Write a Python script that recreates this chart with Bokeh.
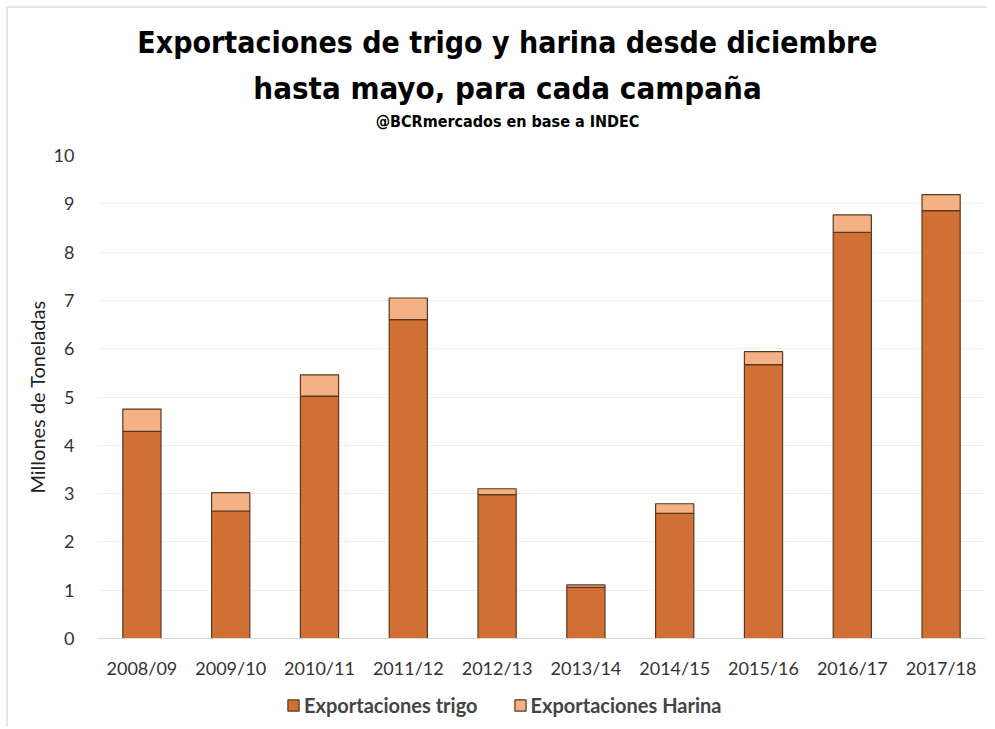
from bokeh.plotting import figure
from bokeh.models import Legend, LegendItem, Range1d, FixedTicker, Label
from bokeh.layouts import column
from bokeh.embed import file_html
from bokeh.resources import INLINE

campaigns = ["2008/09", "2009/10", "2010/11", "2011/12", "2012/13",
             "2013/14", "2014/15", "2015/16", "2016/17", "2017/18"]
trigo = [4.29, 2.64, 5.02, 6.60, 2.98, 1.06, 2.59, 5.67, 8.41, 8.86]
harina = [0.46, 0.38, 0.44, 0.45, 0.12, 0.05, 0.20, 0.27, 0.36, 0.33]

title1 = "Exportaciones de trigo y harina desde diciembre"
title2 = "hasta mayo, para cada campaña"
subtitle = "@BCRmercados en base a INDEC"
ylabel = "Millones de Toneladas"
series_names = ["Exportaciones trigo", "Exportaciones Harina"]
colors = ["#D07035", "#F4B183"]

cond = "'Liberation Sans Narrow', 'DejaVu Sans Condensed', sans-serif"

# header strip with the titles (pixel-like coordinates, y pointing down)
hf = figure(width=979, height=137, output_backend="svg", toolbar_location=None,
            x_range=Range1d(89, 977), y_range=Range1d(137, 0),
            min_border_left=89, min_border_right=2, min_border_top=0, min_border_bottom=0)
hf.axis.visible = False
hf.grid.visible = False
hf.outline_line_color = None
for txt, ty, fs in [(title1, 34, "30px"), (title2, 79, "31px"), (subtitle, 113, "16px")]:
    hf.add_layout(Label(x=499, y=ty, text=txt, text_align="center", text_baseline="middle",
                        text_font=cond, text_font_size=fs, text_font_style="bold",
                        text_color="black"))

p = figure(x_range=campaigns, y_range=Range1d(0, 10), width=979, height=541,
           output_backend="svg", toolbar_location=None,
           min_border_left=89, min_border_right=2, min_border_top=10, min_border_bottom=48)

data = {"x": campaigns, "trigo": trigo, "harina": harina}
rs = p.vbar_stack(["trigo", "harina"], x="x", width=0.43, source=data,
                  fill_color=colors, line_color="#5a3820", line_width=1.2)

p.yaxis.ticker = FixedTicker(ticks=list(range(0, 11)))
p.yaxis.axis_label = ylabel
p.yaxis.axis_label_text_font = "Lato"
p.yaxis.axis_label_text_font_size = "20px"
p.yaxis.axis_label_text_font_style = "normal"
p.yaxis.axis_label_text_color = "#222222"
p.yaxis.axis_label_standoff = 2
p.yaxis.axis_line_color = None
p.yaxis.major_tick_line_color = None
p.yaxis.minor_tick_line_color = None
p.yaxis.major_label_standoff = 17
p.axis.major_label_text_font = "Lato"
p.axis.major_label_text_font_size = "18px"
p.axis.major_label_text_color = "#333333"
p.xaxis.axis_line_color = "#d9d9d9"
p.xaxis.major_tick_line_color = None
p.xaxis.major_label_standoff = 12

p.xgrid.grid_line_color = None
p.ygrid.grid_line_color = "#eeeeee"
p.outline_line_color = None

# legend-only strip below the chart
nan = float("nan")
lf = figure(width=979, height=40, output_backend="svg", toolbar_location=None,
            x_range=Range1d(0, 1), y_range=Range1d(0, 1),
            min_border_left=89, min_border_right=2, min_border_top=0, min_border_bottom=0)
lf.axis.visible = False
lf.grid.visible = False
lf.outline_line_color = None
dummies = [lf.vbar(x=[nan], top=[nan], width=0.1, fill_color=c, line_color="#5a3820", line_width=1.2)
           for c in colors]
legend = Legend(items=[LegendItem(label=n, renderers=[r]) for n, r in zip(series_names, dummies)],
                orientation="horizontal", location=(189, 9),
                label_text_font="Lato", label_text_font_style="bold",
                label_text_font_size="20px", glyph_width=14, glyph_height=14,
                spacing=35, border_line_color=None, background_fill_alpha=0,
                label_standoff=4, margin=0, padding=4)
lf.add_layout(legend, "center")

layout = column(hf, p, lf, spacing=0, margin=(6, 0, 0, 6),
                styles={"border-top": "2px solid #e6e6e6", "border-left": "2px solid #e6e6e6"})
open("out.html", "w").write(file_html(layout, INLINE))
